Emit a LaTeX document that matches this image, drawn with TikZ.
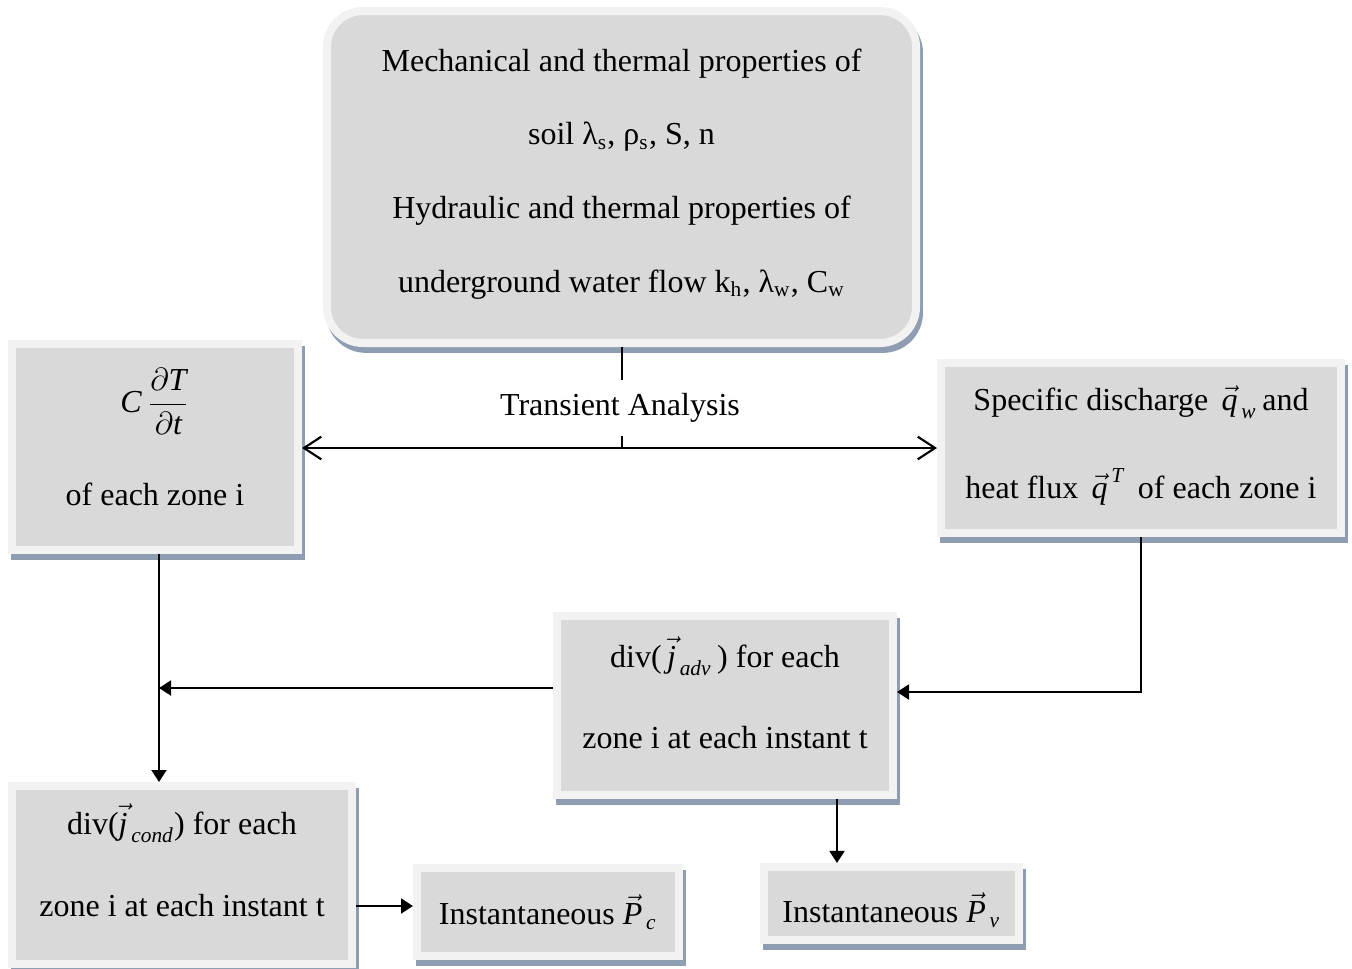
\documentclass[tikz,border=0pt]{standalone}
\usepackage{amsmath}
\usepackage{fontspec}
\setmainfont{Liberation Serif}
\usetikzlibrary{arrows.meta}
\definecolor{boxfill}{HTML}{D9D9D9}
\definecolor{boxrim}{HTML}{F2F2F2}
\definecolor{boxshade}{RGB}{142,157,178}
\newcommand{\itx}[1]{\text{\itshape #1}}
\newcommand{\dstrut}[1]{\rule[-#1]{0pt}{0pt}}

\begin{document}
\begin{tikzpicture}[x=0.375pt, y=-0.375pt, font=\fontsize{12}{14.4}\selectfont,
  pbox/.style={fill=boxfill, draw=boxrim, line width=3pt, align=center, inner sep=0pt,
    preaction={draw=boxshade, fill=boxshade, transform canvas={xshift=1.1pt, yshift=-2.2pt}}},
  linesp/.style={font=\fontsize{12}{#1}\selectfont},
  conn/.style={line width=0.8pt},
  tri/.tip={Triangle[length=4.5pt, width=5.6pt]},
  barb/.tip={Straight Barb[length=6.5pt, width=8.5pt]}]

  \useasboundingbox (0,0) rectangle (1352,969);

  \node[pbox, rounded corners=13.5pt, minimum width=220.9pt, minimum height=124.5pt, linesp=27.6pt] (props) at (621.5,177)
    {Mechanical and thermal properties of\\ soil λ\textsubscript{s}, ρ\textsubscript{s}, S, n\\
     Hydraulic and thermal properties of\\ underground water flow k\textsubscript{h}, λ\textsubscript{w}, C\textsubscript{w}\dstrut{5pt}};
  \node[pbox, minimum width=107.25pt, minimum height=77.25pt, linesp=35pt] (dT) at (155,447)
    {$\itx{C}\,\dfrac{\partial\itx{T}}{\partial\itx{t}}$\\ of each zone i\dstrut{7.5pt}};
  \node[pbox, minimum width=150pt, minimum height=63.75pt, linesp=33pt] (flux) at (1141,448)
    {Specific discharge \,$\vec{\itx{q}}_{\,\itx{w}}$\,and\\ heat flux \,$\vec{\itx{q}}^{\,\itx{T}}$\, of each zone i\dstrut{4.5pt}};
  \node[pbox, minimum width=126pt, minimum height=67.1pt, linesp=30.4pt] (adv) at (725,705.5)
    {div(\,$\vec{\itx{j}}_{\,\itx{adv}}$\,) for each\\ zone i at each instant t\dstrut{9.75pt}};
  \node[pbox, minimum width=127.5pt, minimum height=66.75pt, linesp=30.7pt] (cond) at (182,875)
    {div($\vec{\itx{j}}_{\,\itx{cond}}$) for each\\ zone i at each instant t\dstrut{11.25pt}};
  \node[pbox, minimum width=98.25pt, minimum height=33pt] (Pc) at (548,912)
    {Instantaneous $\vec{\itx{P}}_{\,\itx{c}}$};
  \node[pbox, minimum width=95.6pt, minimum height=27.4pt] (Pv) at (891.5,903.5)
    {\rule{0pt}{16pt}Instantaneous $\vec{\itx{P}}_{\,\itx{v}}$};
  \node[inner xsep=2pt, inner ysep=5pt] (trans) at (620,408) {Transient Analysis};

  \coordinate (jn) at (622,448);
  \coordinate (jl) at (159,688);
  \coordinate (jr) at (1141,692);
  \coordinate (jv) at (837,830);
  \coordinate (jc) at (380,906);

  \draw[conn] (props.south -| jn) -- (trans.north -| jn);
  \draw[conn] (trans.south -| jn) -- (jn);
  \draw[conn, barb-barb] (dT.east |- jn) -- (flux.west |- jn);
  \draw[conn, -tri] (dT.south -| jl) -- (cond.north -| jl);
  \draw[conn, -tri] (adv.west |- jl) -- (jl);
  \draw[conn, -tri] (flux.south -| jr) -- (jr) -- (adv.east |- jr);
  \draw[conn, -tri] (adv.south -| jv) -- (Pv.north -| jv);
  \draw[conn, -tri] (cond.east |- jc) -- (Pc.west |- jc);

\end{tikzpicture}
\end{document}
